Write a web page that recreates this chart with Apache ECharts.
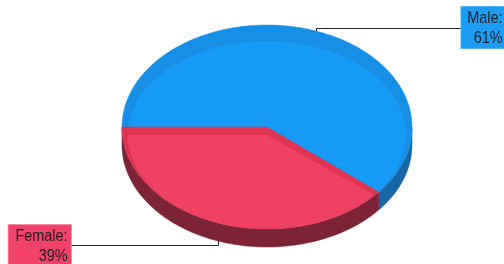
<!DOCTYPE html>
<html>
<head>
<meta charset="utf-8">
<script src="https://cdn.jsdelivr.net/npm/echarts@6/dist/echarts.min.js"></script>
<style>
html,body{margin:0;padding:0;background:#fff;}
#chart{width:504px;height:264px;}
</style>
</head>
<body>
<div id="chart"></div>
<script>
// ---- data ----
const categories = ['Male', 'Female'];
const values = [61, 39];
const topColors = ['#139bf7', '#ef4162'];
const rimColors = ['#1690e6', '#de3452'];
const sideColors = ['#1966a6', '#7c2436'];
const labelColors = ['#1d9cf5', '#f2426a'];

// ---- layout ----
const CX = 267, CY = 127, RX = 145, RY = 102, DEPTH = 18;
const INNER = { cx: 267, cy: 135, rx: 139, ry: 94 };
const START = 180; // degrees, screen coords, clockwise
const FONT = '17px "Liberation Sans", Arial, sans-serif';
const TEXT_SCALE_X = 0.85;
const labelLayout = [
  { anchorX: 506, y: 7, lineY: 28.5, boxEdge: 462, padding: [1, 4, 0, 7], border: '#4fb2f5' },
  { anchorX: 71, y: 225, lineY: 245.5, boxEdge: 71, padding: [1, 4, 2, 8], border: '#f78ca2' }
];

const total = values.reduce((a, b) => a + b, 0);
function angles(i) {
  let acc = 0;
  for (let k = 0; k < i; k++) acc += values[k];
  const a0 = START + acc / total * 360;
  const a1 = START + (acc + values[i]) / total * 360;
  return [a0, a1];
}
function arc(cx, cy, rx, ry, a0, a1) {
  const pts = [];
  const n = Math.max(2, Math.ceil(Math.abs(a1 - a0) / 1));
  for (let j = 0; j <= n; j++) {
    const t = (a0 + (a1 - a0) * j / n) * Math.PI / 180;
    pts.push([cx + rx * Math.cos(t), cy + ry * Math.sin(t)]);
  }
  return pts;
}

function renderSide(params, api) {
  const i = params.dataIndex;
  const [a0, a1] = angles(i);
  const children = [];
  for (let k = -2; k <= 2; k++) {
    const s = Math.max(a0, k * 360), e = Math.min(a1, k * 360 + 180);
    if (e > s) {
      const top = arc(CX, CY, RX, RY, s, e);
      const bot = top.map(p => [p[0], p[1] + DEPTH]).reverse();
      children.push({
        type: 'polygon',
        shape: { points: top.concat(bot) },
        style: { fill: sideColors[i], stroke: sideColors[i], lineWidth: 0.5 }
      });
    }
  }
  return { type: 'group', children };
}

function renderTop(params, api) {
  const i = params.dataIndex;
  const [a0, a1] = angles(i);
  const outer = [[CX, CY]].concat(arc(CX, CY, RX, RY, a0, a1));
  const inner = [[INNER.cx, INNER.cy]].concat(arc(INNER.cx, INNER.cy, INNER.rx, INNER.ry, a0, a1));
  return {
    type: 'group',
    children: [
      { type: 'polygon', shape: { points: outer }, style: { fill: rimColors[i], stroke: rimColors[i], lineWidth: 0.5 } },
      { type: 'polygon', shape: { points: inner }, style: { fill: topColors[i] } }
    ]
  };
}

function renderLabel(params, api) {
  const i = params.dataIndex;
  const [a0, a1] = angles(i);
  const m = (a0 + a1) / 2 * Math.PI / 180;
  const px = Math.round(CX + RX * Math.cos(m)) + 0.5;
  let py = CY + RY * Math.sin(m);
  if (Math.sin(m) > 0) py += DEPTH;
  const L = labelLayout[i];
  return {
    type: 'group',
    children: [
      {
        type: 'polyline',
        shape: { points: [[px, py], [px, L.lineY], [L.boxEdge, L.lineY]] },
        style: { stroke: '#262626', lineWidth: 1, fill: null }
      },
      {
        type: 'text',
        x: L.anchorX, y: L.y,
        scaleX: TEXT_SCALE_X,
        style: {
          text: categories[i] + ':\n' + api.value(0) + '%',
          font: FONT,
          fill: '#1e1e1e',
          align: 'right',
          verticalAlign: 'top',
          lineHeight: 20,
          backgroundColor: labelColors[i],
          borderColor: L.border,
          borderWidth: 1,
          padding: L.padding
        }
      }
    ]
  };
}

const data = values.map(v => [v]);
const chart = echarts.init(document.getElementById('chart'), null, { renderer: 'canvas' });
chart.setOption({
  animation: false,
  series: [
    { type: 'custom', coordinateSystem: 'none', data, renderItem: renderSide, z: 1, silent: true },
    { type: 'custom', coordinateSystem: 'none', data, renderItem: renderTop, z: 2, silent: true },
    { type: 'custom', coordinateSystem: 'none', data, renderItem: renderLabel, z: 3, silent: true }
  ]
});
</script>
</body>
</html>
